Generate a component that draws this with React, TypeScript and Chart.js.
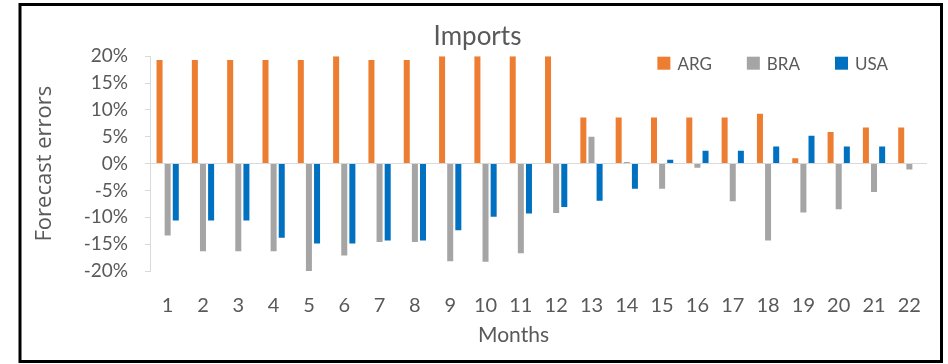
import React, { useEffect, useRef } from "react";
import { Chart, registerables } from "chart.js";

Chart.register(...registerables);

// Forecast errors for imports by month, in percent
const months = ["1","2","3","4","5","6","7","8","9","10","11","12","13","14","15","16","17","18","19","20","21","22"];
const argErrors = [19.3,19.3,19.3,19.3,19.3,20,19.3,19.3,20,20,20,20,8.6,8.6,8.6,8.6,8.6,9.3,1.0,5.9,6.7,6.7];
const braErrors = [-13.4,-16.3,-16.3,-16.3,-20.1,-17.1,-14.6,-14.6,-18.2,-18.3,-16.7,-9.2,5.0,0.3,-4.7,-0.75,-7.0,-14.3,-9.1,-8.5,-5.3,-1.1];
const usaErrors = [-10.6,-10.6,-10.6,-13.8,-14.9,-14.9,-14.3,-14.3,-12.4,-9.9,-9.3,-8.1,-6.9,-4.7,0.7,2.4,2.4,3.2,5.2,3.2,3.2,0];
const seriesNames = ["ARG", "BRA", "USA"];
const seriesColors = ["#ED7D31", "#A5A5A5", "#0070C0"];

const TEXT = "#595959";
const AXIS = "#D9D9D9";
const FONT = "Lato, 'Noto Sans', sans-serif";
const X_TITLE = "Months";

// Legend drawn inside the plot area, top-right, in the style of an office chart
const insideLegend = {
  id: "insideLegend",
  afterDraw(chart: any) {
    const { ctx, chartArea } = chart;
    const box = 13;
    const gap = 7;
    const itemGap = 35;
    ctx.save();
    ctx.font = `17px ${FONT}`;
    ctx.textBaseline = "middle";
    const widths = chart.data.datasets.map((d: any) => ctx.measureText(d.label).width);
    let total = 0;
    widths.forEach((w: number, i: number) => {
      total += box + gap + w + (i < widths.length - 1 ? itemGap : 0);
    });
    let x = chartArea.right - 39 - total;
    const cy = chartArea.top + 7;
    chart.data.datasets.forEach((d: any, i: number) => {
      ctx.fillStyle = d.backgroundColor;
      ctx.fillRect(x, cy - box / 2, box, box);
      ctx.fillStyle = TEXT;
      ctx.fillText(d.label, x + box + gap, cy + 1);
      x += box + gap + widths[i] + itemGap;
    });
    ctx.restore();
  },
};

// Horizontal axis title, placed slightly left of the plot centre
const xAxisTitle = {
  id: "xAxisTitle",
  afterDraw(chart: any) {
    const { ctx, chartArea } = chart;
    ctx.save();
    ctx.font = `21px ${FONT}`;
    ctx.fillStyle = TEXT;
    ctx.textAlign = "center";
    ctx.textBaseline = "middle";
    ctx.fillText(X_TITLE, (chartArea.left + chartArea.right) / 2 - 25, chartArea.bottom + 64);
    ctx.restore();
  },
};

// Black frame around the whole chart
const frame = {
  id: "frame",
  afterDraw(chart: any) {
    const { ctx } = chart;
    ctx.save();
    ctx.strokeStyle = "#000";
    ctx.lineWidth = 3;
    ctx.strokeRect(20, 4.5, 921.5, 357);
    ctx.restore();
  },
};

export default function App() {
  const canvasRef = useRef<HTMLCanvasElement | null>(null);

  useEffect(() => {
    const canvas = canvasRef.current;
    if (!canvas) return;
    const values = [argErrors, braErrors, usaErrors];
    const chart = new Chart(canvas, {
      type: "bar",
      data: {
        labels: months,
        datasets: seriesNames.map((name, i) => ({
          label: name,
          data: values[i],
          backgroundColor: seriesColors[i],
          borderWidth: 0,
          categoryPercentage: 0.69,
          barPercentage: 0.74,
        })),
      },
      options: {
        responsive: false,
        animation: false,
        devicePixelRatio: 1,
        layout: { padding: { left: 28, right: 21, top: 10, bottom: 15 } },
        plugins: {
          legend: { display: false },
          tooltip: { enabled: false },
          title: {
            display: true,
            text: "Imports",
            color: TEXT,
            font: { family: FONT, size: 26, weight: "normal" },
            padding: { top: 11, bottom: 4 },
          },
        },
        scales: {
          x: {
            grid: { display: false, drawTicks: false },
            border: { display: false },
            ticks: {
              color: TEXT,
              font: { family: FONT, size: 20 },
              padding: 23,
              maxRotation: 0,
              autoSkip: false,
            },
            afterFit(scale: any) {
              scale.height = 78;
            },
          },
          y: {
            min: -20,
            max: 20,
            grid: {
              color: (c: any) => (c.tick && c.tick.value === 0 ? AXIS : "rgba(0,0,0,0)"),
              tickColor: AXIS,
              tickLength: 5,
              lineWidth: 1,
            },
            border: { display: true, color: AXIS },
            ticks: {
              stepSize: 5,
              color: TEXT,
              font: { family: FONT, size: 19 },
              padding: 17,
              callback: (v: any) => `${v}%`,
            },
            title: {
              display: true,
              text: "Forecast errors",
              color: TEXT,
              font: { family: "'Open Sans', sans-serif", size: 22 },
              padding: { top: 4, bottom: 4 },
            },
            afterFit(scale: any) {
              scale.width = 122;
            },
          },
        },
      },
      plugins: [insideLegend, xAxisTitle, frame],
    });
    return () => chart.destroy();
  }, []);

  return (
    <div style={{ position: "fixed", left: 0, top: 0, width: 948, height: 364, background: "#fff" }}>
      <canvas ref={canvasRef} width={948} height={364} style={{ display: "block" }} />
    </div>
  );
}
